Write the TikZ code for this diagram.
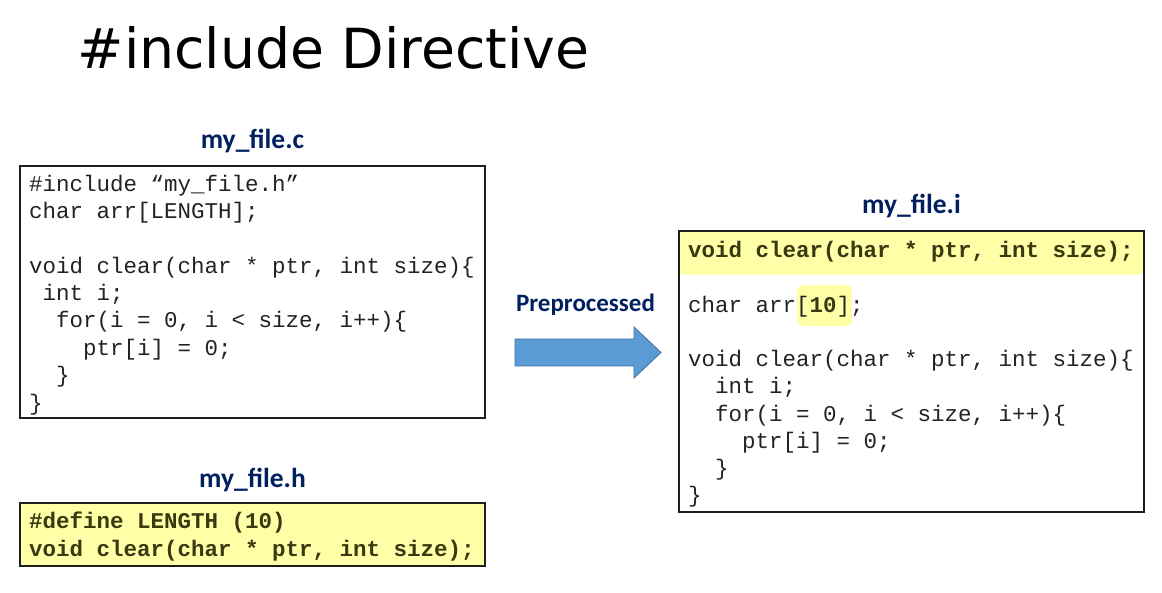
\documentclass[tikz,border=0pt]{standalone}
\usepackage{fontspec}
\setmonofont{Liberation Mono}
\newfontfamily\titlefamily{DejaVu Sans}
\newfontfamily\labelfamily{Carlito}
\definecolor{navy}{RGB}{0,32,96}
\definecolor{codecol}{RGB}{35,35,35}
\definecolor{hltext}{RGB}{60,56,16}
\definecolor{hlfill}{RGB}{255,255,168}
\definecolor{arrowfill}{RGB}{91,155,213}
\definecolor{arrowedge}{RGB}{65,113,156}
\definecolor{boxedge}{RGB}{30,30,30}
\newcommand{\cw}{13.5}
\tikzset{
  code/.style={anchor=base west, inner sep=0pt, text=codecol,
    font=\ttfamily\fontsize{22.5}{27}\selectfont},
  codebold/.style={code, text=hltext, font=\ttfamily\bfseries\fontsize{22.5}{27}\selectfont},
  filelabel/.style={anchor=base, inner sep=0pt, text=navy,
    font=\labelfamily\bfseries\fontsize{27.5}{31}\selectfont},
  filebox/.style={draw=boxedge, line width=1.5pt, rectangle, inner sep=0pt},
}
\begin{document}
\begin{tikzpicture}[x=1pt, y=-1pt]
  \fill[white] (0,0) rectangle (1162,593);
  \useasboundingbox (0,0) rectangle (1162,593);

  % title
  \node[anchor=base west, inner sep=0pt, font=\titlefamily\fontsize{55.3}{60}\selectfont] (title) at (77.5,69) {\#include Directive};

  % ---- my_file.c ----
  \node[filelabel] (clabel) at (252.5,149) {my\_file.c};
  \node[filebox, minimum width=465pt, minimum height=252pt] (cbox) at (252.5,292) {};
  \node[code] (c1) at (29,192) {\#include “my\_file.h”};
  \node[code] (c2) at (29,219) {char arr[LENGTH];};
  \node[code] (c3) at (29,274) {void clear(char * ptr, int size)\{};
  \node[code] (c4) at (29+\cw,301) {int i;};
  \node[code] (c5) at (29+2*\cw,328) {for(i = 0, i < size, i++)\{};
  \node[code] (c6) at (29+4*\cw,356) {ptr[i] = 0;};
  \node[code] (c7) at (29+2*\cw,383) {\}};
  \node[code] (c8) at (29,410) {\}};

  % ---- my_file.h ----
  \node[filelabel] (hlabel) at (252.5,487) {my\_file.h};
  \node[filebox, fill=hlfill, minimum width=465pt, minimum height=63pt] (hbox) at (252.5,534.5) {};
  \node[codebold] (h1) at (29,528) {\#define LENGTH (10)};
  \node[codebold] (h2) at (29,556) {void clear(char * ptr, int size);};

  % ---- arrow ----
  \node[filelabel, font=\labelfamily\bfseries\fontsize{25}{28}\selectfont] (prep) at (585.5,312) {Preprocessed};
  \filldraw[fill=arrowfill, draw=arrowedge, line width=0.8pt]
    (515,339) -- (634,339) -- (634,327) -- (661,352.5) -- (634,378)
    -- (634,366) -- (515,366) -- cycle;

  % ---- my_file.i ----
  \node[filelabel] (ilabel) at (911.5,214) {my\_file.i};
  \fill[hlfill, rounded corners=6pt] (679,231) rectangle (1144,275);
  \fill[hlfill, rounded corners=6pt] (797,285) rectangle (852,326);
  \node[filebox, minimum width=465pt, minimum height=281pt] (ibox) at (911.5,371.5) {};
  \node[codebold] (i1) at (688,258) {void clear(char * ptr, int size);};
  \node[code] (i2) at (688,313) {char arr[{\bfseries\color{hltext}10}];};
  \node[code] (i3) at (688,367) {void clear(char * ptr, int size)\{};
  \node[code] (i4) at (688+2*\cw,394) {int i;};
  \node[code] (i5) at (688+2*\cw,421) {for(i = 0, i < size, i++)\{};
  \node[code] (i6) at (688+4*\cw,448) {ptr[i] = 0;};
  \node[code] (i7) at (688+2*\cw,475) {\}};
  \node[code] (i8) at (688,502) {\}};
\end{tikzpicture}
\end{document}
